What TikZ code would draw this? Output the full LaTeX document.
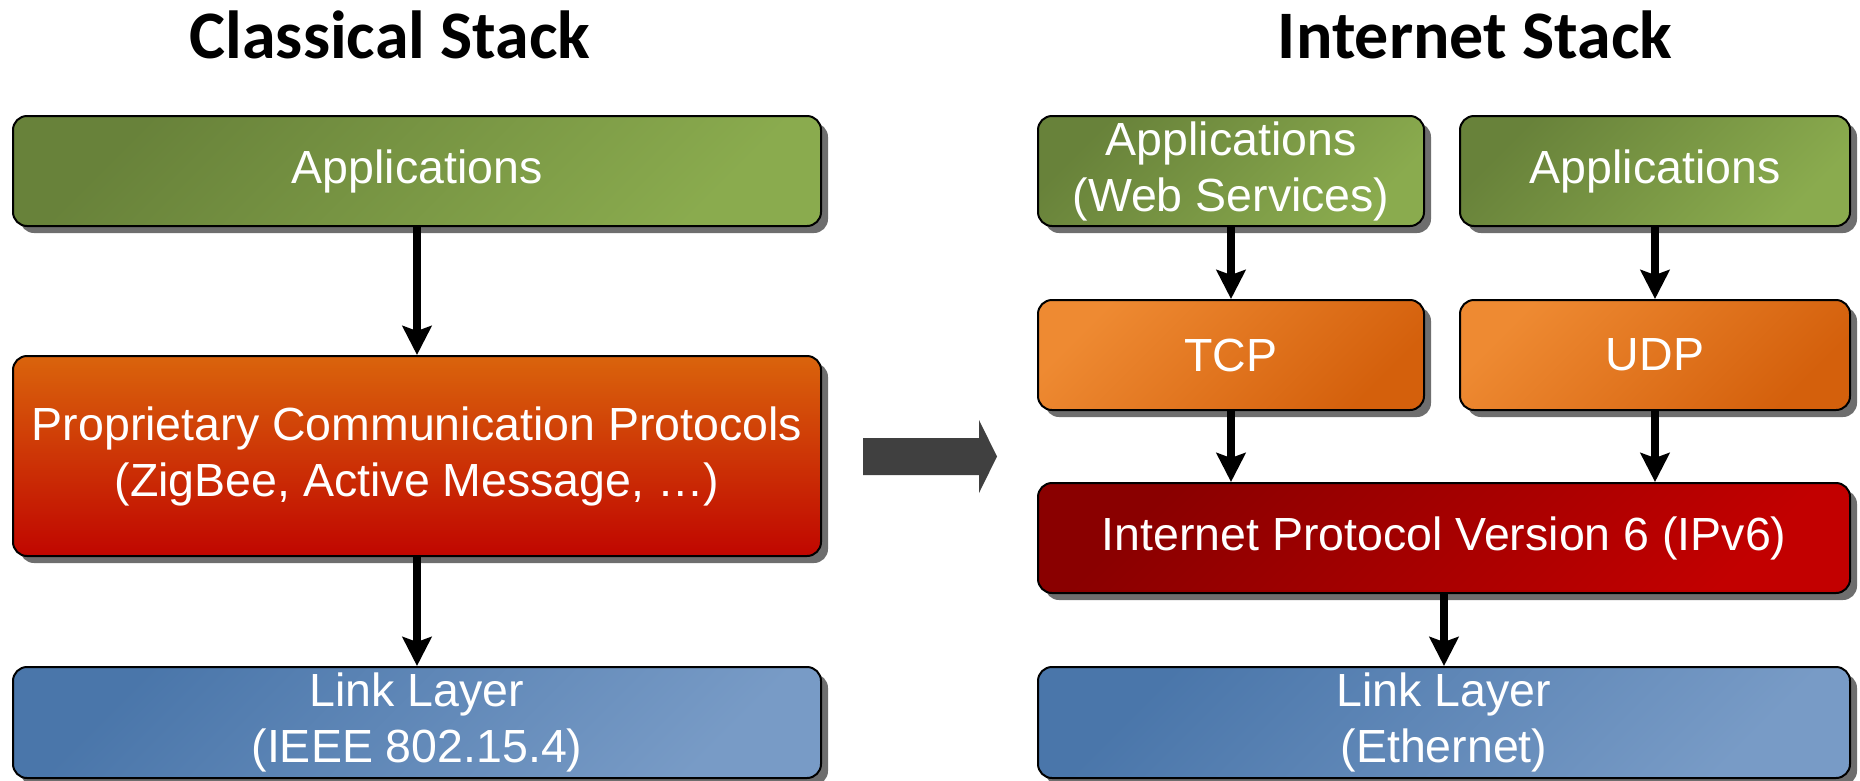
\documentclass[tikz,border=0pt]{standalone}
\usepackage{fontspec}
\setmainfont{Liberation Sans}
\newfontfamily\titlefont{Carlito}
\usetikzlibrary{shadows,arrows.meta}
\definecolor{gtop}{RGB}{104,130,58}
\definecolor{gbot}{RGB}{138,171,78}
\definecolor{otop}{RGB}{238,138,50}
\definecolor{obot}{RGB}{212,96,12}
\definecolor{ptop}{RGB}{218,100,12}
\definecolor{pbot}{RGB}{192,6,0}
\definecolor{itop}{RGB}{138,0,0}
\definecolor{ibot}{RGB}{194,0,0}
\definecolor{btop}{RGB}{74,118,170}
\definecolor{bbot}{RGB}{120,155,198}
\definecolor{shadowgray}{RGB}{110,110,110}
\definecolor{bigarrow}{RGB}{64,64,64}
\begin{document}
\begin{tikzpicture}[x=1pt,y=-1pt,
  layer/.style={rectangle, rounded corners=14pt, draw=black, line width=2pt,
    inner sep=0pt, align=center, text=white,
    font=\fontsize{46.5}{56}\selectfont,
    drop shadow={shadow xshift=7pt, shadow yshift=-7pt, fill=shadowgray, opacity=1}},
  appfill/.style={top color=gtop, bottom color=gbot, shading angle=45},
  tcpfill/.style={top color=otop, bottom color=obot, shading angle=45},
  propfill/.style={top color=ptop, bottom color=pbot},
  ipfill/.style={top color=itop, bottom color=ibot, shading angle=45},
  linkfill/.style={top color=btop, bottom color=bbot, shading angle=45},
  flow/.style={draw=black, line width=7.5pt, -{Stealth[length=29pt,width=29pt,inset=5pt]}},
  title/.style={anchor=base, font=\titlefont\bfseries\fontsize{68}{80}\selectfont}
]
\useasboundingbox (0,0) rectangle (1860,780);

% titles
\node[title] (tleft) at (390,58) {Classical Stack};
\node[title] (tright) at (1475,58) {Internet Stack};

% classical stack
\node[layer, appfill, minimum width=808pt, minimum height=110pt] (capp) at (417,171) {Applications};
\node[layer, propfill, minimum width=808pt, minimum height=200pt] (cprop) at (417,456) {Proprietary Communication Protocols\\(ZigBee, Active Message, \dots)};
\node[layer, linkfill, minimum width=808pt, minimum height=111pt] (clink) at (417,722.5) {Link Layer\\(IEEE 802.15.4)};

\draw[flow] (capp.south) -- (cprop.north);
\draw[flow] (cprop.south) -- (clink.north);

% internet stack
\node[layer, appfill, minimum width=386pt, minimum height=110pt] (iappw) at (1231,171) {Applications\\(Web Services)};
\node[layer, appfill, minimum width=390pt, minimum height=110pt] (iapp) at (1655,171) {Applications};
\node[layer, tcpfill, minimum width=386pt, minimum height=110pt] (tcp) at (1231,355) {TCP};
\node[layer, tcpfill, minimum width=390pt, minimum height=110pt] (udp) at (1655,355) {UDP};
\node[layer, ipfill, minimum width=812pt, minimum height=110pt] (ipv6) at (1444,538) {Internet Protocol Version 6 (IPv6)};
\node[layer, linkfill, minimum width=812pt, minimum height=111pt] (ilink) at (1444,722.5) {Link Layer\\(Ethernet)};

\draw[flow] (iappw.south) -- (tcp.north);
\draw[flow] (iapp.south) -- (udp.north);
\draw[flow] (tcp.south) -- (tcp.south |- ipv6.north);
\draw[flow] (udp.south) -- (udp.south |- ipv6.north);
\draw[flow] (ipv6.south) -- (ilink.north);

% big transition arrow
\fill[bigarrow] (863,438) -- (979,438) -- (979,420) -- (997,456.5) -- (979,493) -- (979,475) -- (863,475) -- cycle;
\end{tikzpicture}
\end{document}
